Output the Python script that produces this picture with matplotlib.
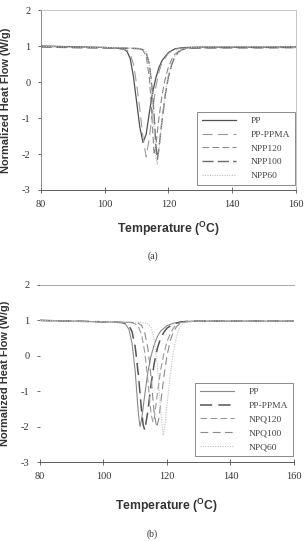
import matplotlib
matplotlib.use("Agg")
import matplotlib.pyplot as plt

plt.rcParams['mathtext.fontset'] = 'custom'
plt.rcParams['mathtext.bf'] = 'Liberation Sans:bold'
plt.rcParams['mathtext.rm'] = 'Liberation Sans:bold'
plt.rcParams['axes.unicode_minus'] = False

# ---------------- panel (a) data ----------------
a_labels = ["PP", "PP-PPMA", "NPP120", "NPP100", "NPP60"]
a_pp_T = [80, 90, 100, 104, 106, 107, 108, 109, 110, 111, 112, 113, 114, 115, 116, 117, 118, 120, 122, 124, 126, 130, 140, 150, 160]
a_pp_y = [1.00, 0.98, 0.96, 0.94, 0.91, 0.85, 0.65, 0.15, -0.55, -1.25, -1.68, -1.45, -0.85, -0.30, 0.10, 0.40, 0.60, 0.82, 0.92, 0.95, 0.96, 0.97, 0.97, 0.97, 0.98]
a_ppma_T = [80, 90, 100, 104, 106, 107, 108, 109, 110, 111, 112, 113, 114, 115, 116, 117, 118, 120, 122, 124, 126, 130, 140, 150, 160]
a_ppma_y = [0.97, 0.95, 0.94, 0.93, 0.91, 0.88, 0.78, 0.50, -0.05, -0.75, -1.55, -2.08, -1.55, -0.80, -0.15, 0.28, 0.55, 0.80, 0.91, 0.94, 0.94, 0.94, 0.94, 0.94, 0.95]
a_120_T = [80, 90, 100, 105, 110, 111, 112, 113, 114, 114.5, 115, 115.5, 116, 117, 118, 119, 120, 121, 122, 124, 126, 130, 140, 150, 160]
a_120_y = [0.99, 0.97, 0.96, 0.95, 0.93, 0.92, 0.88, 0.72, 0.10, -0.50, -1.30, -2.02, -1.80, -1.00, -0.35, 0.10, 0.42, 0.63, 0.77, 0.90, 0.94, 0.96, 0.97, 0.97, 0.97]
a_100_T = [80, 90, 100, 105, 110, 111, 112, 113, 114, 115, 115.5, 116, 116.5, 117, 118, 119, 120, 121, 122, 123, 124, 126, 130, 140, 150, 160]
a_100_y = [0.98, 0.96, 0.95, 0.94, 0.93, 0.92, 0.90, 0.82, 0.50, -0.30, -0.95, -1.70, -2.15, -1.85, -1.05, -0.35, 0.15, 0.48, 0.70, 0.82, 0.89, 0.94, 0.95, 0.96, 0.96, 0.96]
a_60_T = [80, 90, 100, 105, 110, 111, 112, 113, 114, 115, 115.5, 116, 116.5, 117, 118, 119, 120, 121, 122, 124, 126, 130, 140, 150, 160]
a_60_y = [0.99, 0.97, 0.96, 0.95, 0.94, 0.93, 0.91, 0.84, 0.50, -0.40, -1.20, -2.05, -2.30, -1.90, -1.00, -0.30, 0.20, 0.52, 0.72, 0.90, 0.95, 0.97, 0.98, 0.98, 0.98]

# ---------------- panel (b) data ----------------
b_labels = ["PP", "PP-PPMA", "NPQ120", "NPQ100", "NPQ60"]
b_pp_T = [80, 90, 100, 104, 106, 107, 108, 109, 110, 110.5, 111, 111.5, 112, 113, 114, 115, 116, 117, 118, 120, 122, 124, 126, 130, 140, 150, 160]
b_pp_y = [1.00, 0.98, 0.96, 0.95, 0.93, 0.89, 0.75, 0.35, -0.45, -1.05, -1.65, -2.00, -1.80, -1.10, -0.45, 0.00, 0.32, 0.55, 0.70, 0.85, 0.92, 0.95, 0.97, 0.98, 0.98, 0.98, 0.98]
b_ppma_T = [80, 90, 100, 104, 106, 107, 108, 109, 110, 111, 112, 112.5, 113, 114, 115, 116, 117, 118, 119, 120, 122, 124, 126, 130, 140, 150, 160]
b_ppma_y = [1.00, 0.98, 0.96, 0.95, 0.94, 0.92, 0.86, 0.68, 0.25, -0.55, -1.55, -1.95, -2.10, -1.55, -0.80, -0.20, 0.22, 0.50, 0.66, 0.78, 0.90, 0.95, 0.97, 0.98, 0.98, 0.98, 0.98]
b_120_T = [80, 90, 100, 105, 108, 109, 110, 111, 112, 113, 114, 114.5, 115, 115.6, 116, 117, 118, 119, 120, 121, 122, 123, 124, 126, 130, 140, 150, 160]
b_120_y = [1.00, 0.98, 0.96, 0.95, 0.94, 0.93, 0.90, 0.82, 0.60, 0.10, -0.70, -1.20, -1.65, -1.88, -1.75, -1.05, -0.40, 0.05, 0.40, 0.62, 0.78, 0.88, 0.93, 0.97, 0.98, 0.98, 0.98, 0.98]
b_100_T = [80, 90, 100, 105, 110, 111, 112, 113, 114, 115, 115.5, 116, 116.8, 117.5, 118, 119, 120, 121, 122, 123, 124, 126, 130, 140, 150, 160]
b_100_y = [1.00, 0.98, 0.96, 0.95, 0.94, 0.92, 0.86, 0.65, 0.20, -0.60, -1.15, -1.65, -2.02, -1.75, -1.35, -0.60, 0.00, 0.42, 0.68, 0.82, 0.91, 0.96, 0.98, 0.98, 0.98, 0.98]
b_60_T = [80, 90, 100, 105, 110, 112, 113, 114, 115, 116, 117, 117.5, 118, 118.8, 119.5, 120, 121, 122, 123, 124, 125, 126, 130, 140, 150, 160]
b_60_y = [1.00, 0.98, 0.96, 0.95, 0.95, 0.94, 0.93, 0.90, 0.80, 0.45, -0.30, -0.90, -1.55, -2.25, -1.85, -1.40, -0.55, 0.10, 0.55, 0.80, 0.92, 0.96, 0.98, 0.98, 0.98, 0.98]

x_ticks = [80, 100, 120, 140, 160]
y_ticks = [-3, -2, -1, 0, 1, 2]

fig = plt.figure(figsize=(3.05, 5.41), dpi=100)
ax_a = fig.add_axes([0.1344, 0.6488, 0.836, 0.3327])
ax_b = fig.add_axes([0.1311, 0.1460, 0.8328, 0.3272])

serif = "Liberation Serif"
sans = "Liberation Sans"
txt = "#333333"

styles_a = [
    dict(color="#505050", lw=0.9, ls="-"),
    dict(color="#9a9a9a", lw=0.8, ls=(0, (9, 5))),
    dict(color="#8a8a8a", lw=0.8, ls=(0, (6, 3))),
    dict(color="#6a6a6a", lw=1.0, ls=(0, (8, 3))),
    dict(color="#c0c0c0", lw=0.8, ls=(0, (1, 1.2))),
]
styles_b = [
    dict(color="#8a8a8a", lw=0.8, ls="-"),
    dict(color="#555555", lw=1.1, ls=(0, (8, 4))),
    dict(color="#9a9a9a", lw=0.8, ls=(0, (6, 3))),
    dict(color="#8a8a8a", lw=0.8, ls=(0, (7, 4))),
    dict(color="#c0c0c0", lw=0.8, ls=(0, (1, 1.2))),
]

series_a = [(a_pp_T, a_pp_y), (a_ppma_T, a_ppma_y), (a_120_T, a_120_y), (a_100_T, a_100_y), (a_60_T, a_60_y)]
series_b = [(b_pp_T, b_pp_y), (b_ppma_T, b_ppma_y), (b_120_T, b_120_y), (b_100_T, b_100_y), (b_60_T, b_60_y)]

panels = [
    (ax_a, series_a, a_labels, styles_a, "(a)", -0.165, 0.5268, 0.028),
    (ax_b, series_b, b_labels, styles_b, "(b)", -0.195, 0.0130, 0.034),
]

for ax, series, labels, styles, cap, xl_y, cap_y, leg_y in panels:
    for (T, y), lab, st in zip(series, labels, styles):
        ax.plot(T, y, label=lab, **st)
    ax.set_xlim(80, 160)
    ax.set_ylim(-3, 2)
    ax.set_xticks(x_ticks)
    ax.set_yticks(y_ticks)
    ax.tick_params(axis="both", labelsize=7.5, colors="#555555", labelcolor=txt,
                   length=2.5, width=0.6, pad=5)
    ax.tick_params(axis="x", direction="inout", length=4)
    for lbl in ax.get_xticklabels() + ax.get_yticklabels():
        lbl.set_fontfamily(serif)
    ax.set_xlabel(r"Temperature ($\mathbf{^{O}}$C)", fontsize=8.8, fontweight="bold",
                  family=sans, color=txt)
    ax.xaxis.set_label_coords(0.5, xl_y)
    ax.set_ylabel("Normalized Heat Flow (W/g)", fontsize=7.9, fontweight="bold",
                  family=sans, color=txt)
    ax.yaxis.set_label_coords(-0.118, 0.5)
    leg = ax.legend(loc="lower right", bbox_to_anchor=(0.996, leg_y),
                    borderaxespad=0.0,
                    prop={"family": serif, "size": 6.8}, handlelength=3.6,
                    handletextpad=1.6, borderpad=0.5, labelspacing=0.55,
                    fancybox=False, edgecolor="#777777", framealpha=1)
    leg.get_frame().set_linewidth(0.6)
    for t in leg.get_texts():
        t.set_color("#444444")

    fig.text(0.5, cap_y, cap, ha="center", va="center", family=serif,
             fontsize=7, color=txt)

# panel (a) framed box, panel (b) only horizontal lines
for sp in ax_a.spines.values():
    sp.set_linewidth(0.6)
ax_a.spines["left"].set_color("#777777")
ax_a.spines["top"].set_color("#bbbbbb")
ax_a.spines["right"].set_color("#bbbbbb")
ax_a.spines["bottom"].set_color("#444444")

ax_b.spines["left"].set_visible(False)
ax_b.spines["right"].set_visible(False)
ax_b.spines["top"].set_color("#999999")
ax_b.spines["top"].set_linewidth(0.6)
ax_b.spines["bottom"].set_color("#444444")
ax_b.spines["bottom"].set_linewidth(0.6)

fig.savefig("out.png", dpi=100)
